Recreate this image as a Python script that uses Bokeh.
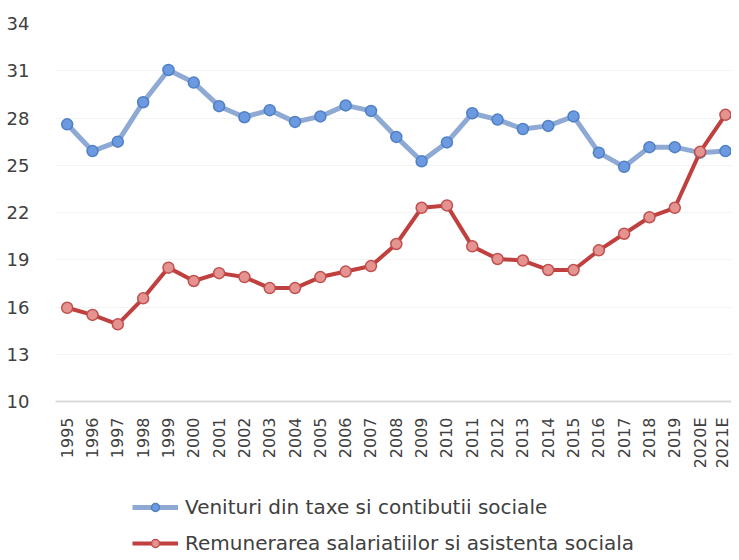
import math
from bokeh.plotting import figure
from bokeh.layouts import column
from bokeh.models import Range1d, FixedTicker, Legend, LegendItem, ColumnDataSource
from bokeh.embed import file_html
from bokeh.resources import INLINE

years = ["1995", "1996", "1997", "1998", "1999", "2000", "2001", "2002", "2003",
         "2004", "2005", "2006", "2007", "2008", "2009", "2010", "2011", "2012",
         "2013", "2014", "2015", "2016", "2017", "2018", "2019", "2020E", "2021E"]

venituri = [27.6, 25.9, 26.5, 29.0, 31.05, 30.25, 28.75, 28.05, 28.5, 27.75,
            28.1, 28.8, 28.45, 26.8, 25.25, 26.45, 28.3, 27.9, 27.3, 27.5,
            28.1, 25.8, 24.9, 26.15, 26.15, 25.8, 25.9]

remunerare = [15.95, 15.5, 14.9, 16.55, 18.5, 17.65, 18.15, 17.9, 17.2, 17.2,
              17.9, 18.25, 18.6, 20.0, 22.3, 22.45, 19.85, 19.05, 18.95, 18.35,
              18.35, 19.6, 20.65, 21.7, 22.3, 25.85, 28.2]

y_ticks = [10, 13, 16, 19, 22, 25, 28, 31, 34]

label_blue = "Venituri din taxe si contibutii sociale"
label_red = "Remunerarea salariatiilor si asistenta sociala"

FONT = "DejaVu Sans"
TEXT = "#404040"
BLUE_LINE, BLUE_FILL, BLUE_EDGE = "#8eaad4", "#6c9ae0", "#4f7fc4"
RED_LINE, RED_FILL, RED_EDGE = "#c0403f", "#e49391", "#c0504d"

idx = list(range(len(years)))
src = ColumnDataSource(dict(x=idx, year=years, v=venituri, r=remunerare))

W = 731

# ---------------- main chart ----------------
p = figure(
    width=W, height=471,
    x_range=Range1d(-0.462, 26.24),
    y_range=Range1d(10, 34),
    output_backend="svg", toolbar_location=None,
    min_border_left=55, min_border_right=0, min_border_top=23, min_border_bottom=70,
)
p.outline_line_color = None
p.background_fill_color = "white"
p.border_fill_color = "white"

p.xgrid.grid_line_color = None
p.ygrid.grid_line_color = "#f3f3f3"
p.ygrid.grid_line_width = 1

p.yaxis.ticker = FixedTicker(ticks=y_ticks)
p.yaxis.axis_line_color = None
p.yaxis.major_tick_line_color = None
p.yaxis.minor_tick_line_color = None
p.yaxis.major_label_text_font = FONT
p.yaxis.major_label_text_font_size = "18px"
p.yaxis.major_label_text_color = TEXT
p.yaxis.major_label_standoff = 20

p.xaxis.ticker = FixedTicker(ticks=idx)
p.xaxis.major_label_overrides = {i: y for i, y in zip(idx, years)}
p.xaxis.axis_line_color = "#d9d9d9"
p.xaxis.axis_line_width = 2
p.xaxis.major_tick_line_color = None
p.xaxis.minor_tick_line_color = None
p.xaxis.major_tick_out = 0
p.xaxis.major_label_orientation = math.pi / 2
p.xaxis.major_label_text_font = FONT
p.xaxis.major_label_text_font_size = "16px"
p.xaxis.major_label_text_color = TEXT
p.xaxis.major_label_standoff = 16


def draw(fig):
    bl = fig.line("x", "v", source=src, line_color=BLUE_LINE, line_width=5)
    bs = fig.scatter("x", "v", source=src, size=11, fill_color=BLUE_FILL,
                     line_color=BLUE_EDGE, line_width=1.5)
    rl = fig.line("x", "r", source=src, line_color=RED_LINE, line_width=4)
    rs = fig.scatter("x", "r", source=src, size=11, fill_color=RED_FILL,
                     line_color=RED_EDGE, line_width=1.5)
    return bl, bs, rl, rs


draw(p)

# ---------------- legend strip ----------------
leg = figure(
    width=W, height=85,
    x_range=Range1d(1000, 1001), y_range=Range1d(1000, 1001),
    output_backend="svg", toolbar_location=None,
    x_axis_location=None, y_axis_location=None,
    min_border_left=0, min_border_right=0, min_border_top=0, min_border_bottom=0,
)
leg.outline_line_color = None
leg.grid.visible = False
lbl, lbs, lrl, lrs = draw(leg)

legend = Legend(
    items=[LegendItem(label=label_blue, renderers=[lbl, lbs]),
           LegendItem(label=label_red, renderers=[lrl, lrs])],
    location=(77, 1),
    orientation="vertical",
    glyph_width=46, glyph_height=20, label_height=20,
    label_standoff=7, spacing=12, padding=0, margin=0,
    border_line_color=None, background_fill_alpha=0,
    label_text_font=FONT, label_text_font_size="20px", label_text_color=TEXT,
)
leg.add_layout(legend, "center")

layout = column(p, leg, spacing=0)
open("out.html", "w").write(file_html(layout, INLINE))
